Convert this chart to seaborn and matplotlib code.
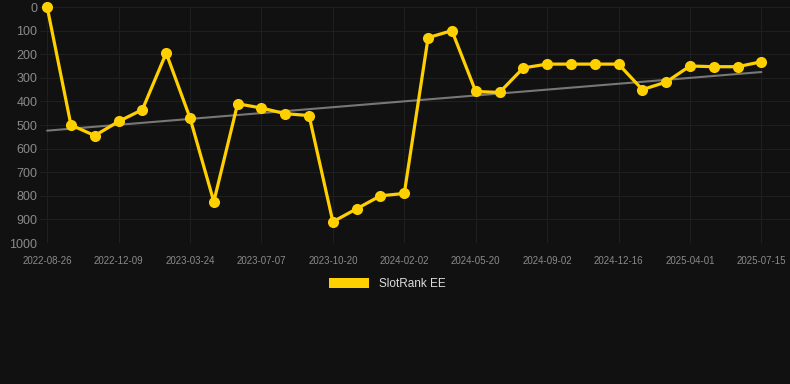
import matplotlib
matplotlib.use("Agg")
import matplotlib.pyplot as plt
from matplotlib.patches import Patch
import numpy as np
import pandas as pd
import seaborn as sns

dates = ["2022-08-26", "2022-09-30", "2022-11-04", "2022-12-09", "2023-01-13", "2023-02-17",
         "2023-03-24", "2023-04-28", "2023-06-02", "2023-07-07", "2023-08-11", "2023-09-15",
         "2023-10-20", "2023-11-24", "2023-12-29", "2024-02-02", "2024-03-09", "2024-04-14",
         "2024-05-20", "2024-06-24", "2024-07-29", "2024-09-02", "2024-10-07", "2024-11-11",
         "2024-12-16", "2025-01-20", "2025-02-24", "2025-04-01", "2025-05-06", "2025-06-10",
         "2025-07-15"]
rank = [0, 500, 545, 485, 435, 195, 470, 825, 410, 428, 452, 460, 910, 855, 800, 790,
        130, 100, 358, 362, 258, 242, 242, 242, 242, 350, 318, 250, 253, 253, 232]
tick_labels = dates[::3]

df = pd.DataFrame({"idx": range(len(dates)), "date": dates, "rank": rank})

bg = "#111111"
sns.set_style("dark", {"axes.facecolor": bg, "figure.facecolor": bg})
plt.rcParams['font.family'] = ['Liberation Sans', 'DejaVu Sans']

fig = plt.figure(figsize=(7.9, 3.84), dpi=100)
ax = fig.add_axes([40 / 790, 1 - 243 / 384, 750 / 790, 236 / 384])

# trend line
sns.regplot(data=df, x="idx", y="rank", scatter=False, ci=None, truncate=True,
            color="#777777", line_kws={"linewidth": 1.5, "zorder": 2}, ax=ax)
sns.lineplot(data=df, x="idx", y="rank", color="#FFD000", linewidth=2.3,
             marker="o", markersize=8, markeredgewidth=0, ax=ax, zorder=3, clip_on=False)

ax.set_ylim(1000, 0)
ax.set_xlim(-0.3, len(dates) - 1 + 1.2)
ax.set_yticks(range(0, 1001, 100))
ax.set_xticks(range(0, len(dates), 3))
ax.set_xticklabels(tick_labels)
ax.tick_params(axis="y", colors="#8a8a8a", labelsize=9, length=0, pad=2)
ax.tick_params(axis="x", colors="#8a8a8a", labelsize=7, length=0, pad=9)
ax.grid(True, color="#1f1f1f", linewidth=0.8)
ax.set_xlabel("")
ax.set_ylabel("")
for s in ax.spines.values():
    s.set_visible(False)

fig.legend(handles=[Patch(facecolor="#FFD000", edgecolor="none", label="SlotRank EE")],
           loc="center", bbox_to_anchor=(0.49, 1 - 284 / 384), frameon=False,
           labelcolor="#dddddd", fontsize=8.5, handlelength=3.4, handleheight=1.0)

fig.savefig("out.png", dpi=100, facecolor=bg)
